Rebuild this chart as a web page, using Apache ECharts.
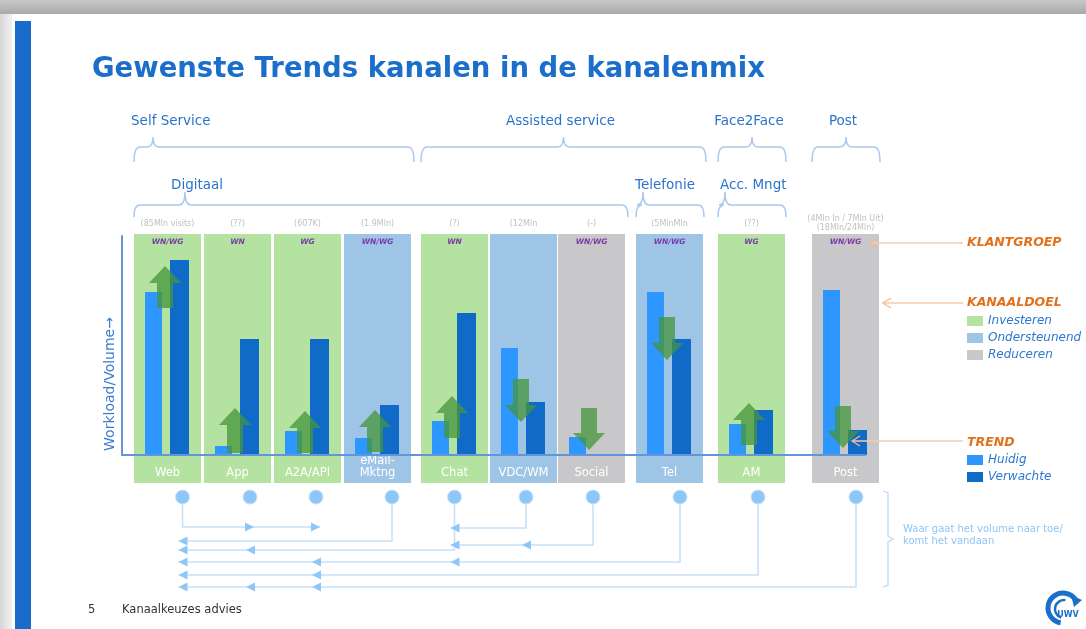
<!DOCTYPE html>
<html><head><meta charset="utf-8">
<script src="https://cdn.jsdelivr.net/npm/echarts@6/dist/echarts.min.js"></script>
<style>html,body{margin:0;padding:0;background:#fff}#c{width:1086px;height:629px}</style>
</head><body><div id="c"></div>
<script>
// ---------------- data ----------------
const channels   = ['Web','App','A2A/API','eMail-Mktng','Chat','VDC/WM','Social','Tel','AM','Post'];
const huidig     = [163,   9,  24,  17,  34, 107,  18, 163,  31, 165];
const verwachte  = [195, 116, 116,  50, 142,  53,   0, 116,  45,  25];
const trendFrom  = [147,   2,   2,   3,  17,  76,  47, 138,  10,  49];
const trendTo    = [189,  47,  44,  45,  59,  33,   5,  95,  52,   7];
const kanaaldoel = ['Investeren','Investeren','Investeren','Ondersteunend','Investeren','Ondersteunend','Reduceren','Ondersteunend','Investeren','Reduceren'];
const kanaaldoelTypes = ['Investeren','Ondersteunend','Reduceren'];
const klantgroep = ['WN/WG','WN','WG','WN/WG','WN','','WN/WG','WN/WG','WG','WN/WG'];
const volumes    = ['(85Mln visits)','(??)','(607K)','(1.9Mln)','(?)','(12Mln','(-)','(5MlnMln','(??)','(4Mln In / 7Mln Uit)\n(18Mln/24Mln)'];
const hoofdgroep = ['Self Service','Self Service','Self Service','Self Service','Assisted service','Assisted service','Assisted service','Assisted service','Face2Face','Post'];
const subgroep   = ['Digitaal','Digitaal','Digitaal','Digitaal','Digitaal','Digitaal','Digitaal','Telefonie','Acc. Mngt',''];
const flowFrom   = ['Web','eMail-Mktng','Chat','VDC/WM','Social','Tel','AM','Post'];
const flowTo     = [['App','A2A/API'],['Web'],['Web','App'],['Chat'],['Chat','VDC/WM'],['Web','A2A/API','Chat'],['Web','A2A/API'],['Web','App','A2A/API']];
const trendNames = ['Huidig','Verwachte'];

// ---------------- layout ----------------
const FONT = 'DejaVu Sans';
const PITCH = 70, COL_W = 67;
const gapBefore = [0,0,0,0,7,-1,-2,8,12,24];
const circleOffset = [15,12.5,8.5,14.5,0,2.5,1.5,10.5,6.5,10.5];
const flowLevel = [30,44,53,31,48,65,78,90];
const braceStyle = {
  'Self Service':{bump:19,label:-3}, 'Digitaal':{bump:51,label:37},
  'Telefonie':{bump:7,label:-1}, 'Acc. Mngt':{bump:7,label:2}
};
const pos = []; let acc = 0;
channels.forEach((c,i)=>{ acc += gapBefore[i]; pos.push(i + acc/PITCH); });
const GL = 122, GW = 743;
const xMin = -(167.5-GL)/PITCH, xMax = xMin + GW/PITCH;
const bgColors = {Investeren:'#b4e2a0', Ondersteunend:'#9ec5e6', Reduceren:'#c8c8ca'};
const barColors = {Huidig:'#2d96ff', Verwachte:'#106ac8'};

function buildGroups(arr, level){
  const out=[];
  arr.forEach((g,i)=>{ if(!g) return; const l=out[out.length-1];
    if(l && l.name===g && l.last===i-1) l.last=i; else out.push({name:g, first:i, last:i, level}); });
  return out;
}
const groupList = buildGroups(hoofdgroep,0).concat(buildGroups(subgroep,1));

function bgSeries(type){
  return {
    name:type, type:'custom', xAxisIndex:0, yAxisIndex:0, z:1, silent:true,
    itemStyle:{color:bgColors[type]},
    encode:{x:0,y:1},
    data: channels.map((c,i)=>kanaaldoel[i]===type?[pos[i],0,i]:null).filter(d=>d),
    renderItem(params, api){
      const i = api.value(2), cs = params.coordSys;
      const cx = api.coord([api.value(0),0])[0];
      const top = cs.y - 2, bottom = cs.y + cs.height + 28;
      const lines = channels[i].indexOf('-')>=0 ? 2 : 1;
      return {type:'group', children:[
        {type:'rect', shape:{x:cx-COL_W/2, y:top, width:COL_W, height:bottom-top}, style:{fill:api.visual('color')}},
        {type:'text', style:{text:channels[i].replace('-','-\n'), x:cx, y:bottom-10-(lines-1)*5.5, fill:'#ffffff', fontSize:11.5, fontFamily:FONT, align:'center', verticalAlign:'middle', lineHeight:12}},
        {type:'text', style:{text:klantgroep[i], x:cx, y:top+8, fill:'#7a3aa8', fontSize:7.5, fontWeight:'bold', fontStyle:'italic', fontFamily:FONT, align:'center', verticalAlign:'middle'}},
        {type:'text', style:{text:volumes[i], x:cx, y:top-10.5, fill:'#c0c0c0', fontSize:8, fontFamily:FONT, align:'center', verticalAlign:'middle', lineHeight:9}}
      ]};
    }
  };
}
function barSeries(name, values, offset, width){
  return {
    name, type:'custom', xAxisIndex:0, yAxisIndex:0, z:3, itemStyle:{color:barColors[name]},
    encode:{x:0,y:1},
    data: channels.map((c,i)=>[pos[i], values[i]]),
    renderItem(params, api){
      const v = api.value(1); if(!v) return null;
      const b = api.coord([api.value(0),0]), t = api.coord([api.value(0),v]);
      return {type:'rect', shape:{x:b[0]+offset, y:t[1], width, height:b[1]-t[1]}, style:{fill:api.visual('color')}};
    }
  };
}
const trendSeries = {
  type:'custom', xAxisIndex:0, yAxisIndex:0, z:4, silent:true,
  encode:{x:0,y:[1,2]},
  data: channels.map((c,i)=>[pos[i], trendFrom[i], trendTo[i]]),
  renderItem(params, api){
    const x = api.value(0);
    const cx = api.coord([x,0])[0] - 2.5;
    const y0 = api.coord([x,api.value(1)])[1], y1 = api.coord([x,api.value(2)])[1];
    const d = y1 < y0 ? -1 : 1, yh = y1 - d*17;
    return {type:'polygon', shape:{points:[[cx-8,y0],[cx+8,y0],[cx+8,yh],[cx+16,yh],[cx,y1],[cx-16,yh],[cx-8,yh]]},
      style:{fill:'rgba(70,150,60,0.76)'}};
  }
};
const braceSeries = {
  type:'custom', xAxisIndex:0, yAxisIndex:0, z:2, silent:true,
  encode:{x:0,y:1},
  data: groupList.map((g,gi)=>[pos[g.first],0,gi]),
  renderItem(params, api){
    const g = groupList[api.value(2)], cs = params.coordSys;
    const x0 = api.coord([pos[g.first],0])[0] - COL_W/2;
    const x1 = api.coord([pos[g.last],0])[0] + COL_W/2 + (g.last>g.first?3:1);
    const yl = g.level===0 ? cs.y-89 : cs.y-31;
    const yE = yl + (g.level===0?15:12), yB = yl - (g.level===0?10:13);
    const st = braceStyle[g.name] || {};
    const b = st.bump!=null ? x0+st.bump : (x0+x1)/2;
    const p = `M${x0} ${yE} Q${x0} ${yl} ${x0+6} ${yl} L${b-6} ${yl} Q${b} ${yl} ${b} ${yB} Q${b} ${yl} ${b+6} ${yl} L${x1-6} ${yl} Q${x1} ${yl} ${x1} ${yE}`;
    const lx = st.label!=null ? x0+st.label : b-3;
    return {type:'group', children:[
      {type:'path', shape:{pathData:p}, style:{stroke:'#aac9ee', lineWidth:1.5, fill:null}},
      {type:'text', style:{text:g.name, x:lx, y:g.level===0?yl-26:yl-20, fill:'#2a74cc', fontSize:13.5, fontFamily:FONT,
        align:st.label!=null?'left':'center', verticalAlign:'middle'}}
    ]};
  }
};
const flowSeries = {
  type:'custom', xAxisIndex:1, yAxisIndex:1, z:2, silent:true,
  encode:{x:0,y:1},
  data: flowFrom.map((f,k)=>[pos[channels.indexOf(f)], flowLevel[k], k]),
  renderItem(params, api){
    const k = api.value(2), s = channels.indexOf(flowFrom[k]);
    const sx = api.coord([pos[s],0])[0] + circleOffset[s];
    const y0 = api.coord([pos[s],0])[1], y = api.coord([pos[s],api.value(1)])[1];
    const tips = flowTo[k].map(t=>{ const ti=channels.indexOf(t); return api.coord([pos[ti],0])[0]+circleOffset[ti]; });
    const dir = tips[0] < sx ? -1 : 1;
    const tipX = tips.map(tx=>tx+dir*4);
    const far = dir<0 ? Math.min(...tipX) : Math.max(...tipX);
    const ch = [{type:'polyline', shape:{points:[[sx,y0],[sx,y],[far,y]]}, style:{stroke:'#c6e1fc', lineWidth:1.6, fill:null}}];
    tipX.forEach(tx=>{ ch.push({type:'polygon', shape:{points:[[tx,y],[tx-dir*9,y-4.5],[tx-dir*9,y+4.5]]}, style:{fill:'#8fc6f8'}}); });
    return {type:'group', children:ch};
  }
};
const circleSeries = {
  type:'custom', xAxisIndex:1, yAxisIndex:1, z:3, silent:true,
  encode:{x:0,y:1},
  data: channels.map((c,i)=>[pos[i],0,i]),
  renderItem(params, api){
    const i = api.value(2), p = api.coord([api.value(0),0]);
    return {type:'circle', shape:{cx:p[0]+circleOffset[i], cy:p[1], r:7}, style:{fill:'#8fc6f9', stroke:'#c6e2fd', lineWidth:1}};
  }
};

function chevron(x,y){ return {type:'polyline', z:20, shape:{points:[[x+8,y-5],[x,y],[x+8,y+5]]}, style:{stroke:'#f3b98f', lineWidth:1.3, fill:null}}; }
function hline(x0,x1,y){ return {type:'line', z:20, shape:{x1:x0,y1:y,x2:x1,y2:y}, style:{stroke:'#f6cbaa', lineWidth:1.3}}; }
function orangeText(t,y){ return {type:'text', z:20, style:{text:t, x:967, y, fill:'#e2711d', fontSize:12.5, fontWeight:'bold', fontStyle:'italic', fontFamily:FONT, verticalAlign:'middle'}}; }

const legendText = {color:'#2d77d0', fontStyle:'italic', fontSize:12, fontFamily:FONT, lineHeight:10};

const option = {
  animation:false,
  backgroundColor:'#ffffff',
  title:{text:'Gewenste Trends kanalen in de kanalenmix', left:92, top:56, padding:0,
    textStyle:{color:'#1b6fcb', fontSize:27.5, fontWeight:'bold', fontFamily:FONT}},
  legend:[
    {data:kanaaldoelTypes, left:967, top:315, orient:'vertical', icon:'rect', itemWidth:16, itemHeight:10, itemGap:5, selectedMode:false, padding:0, textStyle:legendText},
    {data:trendNames, left:967, top:454, orient:'vertical', icon:'rect', itemWidth:16, itemHeight:10, itemGap:5, selectedMode:false, padding:0, textStyle:legendText}
  ],
  grid:[
    {left:GL, top:236, width:GW, height:219},
    {left:GL, top:497, width:GW, height:92}
  ],
  xAxis:[
    {gridIndex:0, type:'value', min:xMin, max:xMax, z:10,
      axisLine:{show:true, onZero:false, lineStyle:{color:'#6396d8', width:2}}, axisTick:{show:false}, axisLabel:{show:false}, splitLine:{show:false}},
    {gridIndex:1, type:'value', min:xMin, max:xMax, show:false}
  ],
  yAxis:[
    {gridIndex:0, type:'value', min:0, max:219, z:10,
      axisLine:{show:true, onZero:false, lineStyle:{color:'#6396d8', width:2}}, axisTick:{show:false}, axisLabel:{show:false}, splitLine:{show:false}},
    {gridIndex:1, type:'value', min:0, max:92, inverse:true, show:false}
  ],
  series:[
    ...kanaaldoelTypes.map(bgSeries),
    braceSeries,
    barSeries('Huidig', huidig, -22.5, 17),
    barSeries('Verwachte', verwachte, 2.5, 19),
    trendSeries,
    flowSeries,
    circleSeries
  ],
  graphic:[
    {type:'rect', z:0, shape:{x:0,y:0,width:1086,height:14}, style:{fill:new echarts.graphic.LinearGradient(0,0,0,1,[{offset:0,color:'#c9c9c9'},{offset:1,color:'#a9a9a9'}])}},
    {type:'rect', z:0, shape:{x:0,y:14,width:12,height:615}, style:{fill:new echarts.graphic.LinearGradient(0,0,1,0,[{offset:0,color:'#d6d6d6'},{offset:1,color:'#f2f2f2'}])}},
    {type:'rect', z:0, shape:{x:15,y:21,width:16,height:608}, style:{fill:'#1a6ccc'}},
    {type:'text', z:20, x:110, y:384, rotation:Math.PI/2, style:{text:'Workload/Volume\u2192', x:0, y:0, fill:'#3b7bd0', fontSize:14, fontFamily:FONT, align:'center', verticalAlign:'middle'}},
    orangeText('KLANTGROEP',243), hline(963,870,243), chevron(870,243),
    orangeText('KANAALDOEL',303), hline(963,883,303), chevron(883,303),
    orangeText('TREND',443), hline(963,852,441), chevron(852,441),
    {type:'polyline', z:20, shape:{points:[[883,491],[888,493],[888,536],[893,539],[888,542],[888,585],[883,587]]}, style:{stroke:'#b9dafb', lineWidth:1.3, fill:null}},
    {type:'text', z:20, style:{text:'Waar gaat het volume naar toe/\nkomt het vandaan', x:903, y:535, fill:'#8ec5f8', fontSize:10, fontFamily:FONT, verticalAlign:'middle', lineHeight:12}},
    {type:'text', z:20, style:{text:'5', x:88, y:610, fill:'#333333', fontSize:11.5, fontFamily:FONT, verticalAlign:'middle'}},
    {type:'text', z:20, style:{text:'Kanaalkeuzes advies', x:122, y:610, fill:'#333333', fontSize:11.5, fontFamily:FONT, verticalAlign:'middle'}},
    {type:'arc', z:20, shape:{cx:1063,cy:608,r:15,startAngle:Math.PI*0.55,endAngle:Math.PI*1.82}, style:{stroke:'#1b6fcb', lineWidth:5, fill:null}},
    {type:'arc', z:20, shape:{cx:1064,cy:609,r:9,startAngle:Math.PI*0.6,endAngle:Math.PI*1.55}, style:{stroke:'#1b6fcb', lineWidth:2.5, fill:null}},
    {type:'polygon', z:20, shape:{points:[[1071,595],[1082,600],[1074,607]]}, style:{fill:'#1b6fcb'}},
    {type:'text', z:20, style:{text:'UWV', x:1068, y:615, fill:'#1b6fcb', fontSize:8, fontWeight:'bold', fontFamily:FONT, align:'center', verticalAlign:'middle'}}
  ]
};
const chart = echarts.init(document.getElementById('c'));
chart.setOption(option);
</script>
</body></html>
